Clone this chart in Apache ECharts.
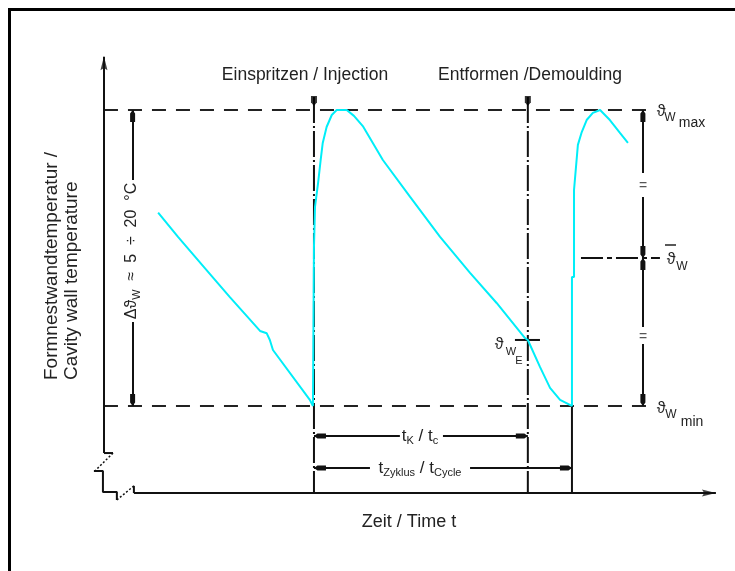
<!DOCTYPE html>
<html><head><meta charset="utf-8">
<script src="https://cdn.jsdelivr.net/npm/echarts@6/dist/echarts.min.js"></script>
<style>html,body{margin:0;padding:0;background:#fff}#c{width:735px;height:571px}</style>
</head><body><div id="c"></div>
<script>
// time t: injection at 0, cycle length 10 (arbitrary units); temperature: theta_min 40, theta_max 60
const T_INJ = 0, T_DEM = 8.29, T_CYC = 10;
const TH_MIN = 40, TH_MAX = 60, TH_MEAN = 50, TH_E = 44.46;
const T_AXIS = -8.14, TH_AXIS = 34.12, T_END = 15.58, TH_TOP = 63.6;
const T_DIM_L = -7.03, T_DIM_R = 12.75, T_REF_END = 12.95;
const TH_TK = 37.97, TH_TZ = 35.81, TH_MARK = 60.61, TH_VTOP = 60.88;
const T_MEAN_A = 10.35, T_MEAN_B = 13.41, T_E_A = 7.79, T_E_B = 8.76;

// cavity wall temperature curve [t, theta]
const curve = [
 [-6.04,53.06],[-5.27,51.42],[-4.23,49.32],[-3.26,47.36],[-2.09,45.07],[-1.83,44.91],[-1.71,44.46],[-1.59,43.78],[-0.16,40.41],[-0.04,40.0],
 [0,40],[0,50.74],[0.04,50.74],[0.04,53.45],[0.16,55.07],[0.26,56.62],[0.34,57.77],[0.49,58.85],[0.69,59.66],[0.88,60],[1.27,60],
 [1.55,59.6],[1.91,58.87],[2.67,56.62],[3.72,54.14],[4.88,51.44],[6.05,48.99],[7.08,46.96],[8.18,44.59],[8.29,44.46],[8.76,42.64],[9.15,41.22],[9.54,40.41],[9.92,40.07],[10.0,40],
 [10.0,48.72],[10.08,48.72],[10.08,54.59],[10.23,57.64],[10.38,58.51],[10.57,59.32],[10.81,59.8],[11.09,60],[11.47,59.32],[11.86,58.45],[12.17,57.77]
];
// axis break outline
const breakSolidA = [[T_AXIS,36.82],[-7.79,36.82]];
const breakDotA = [[-7.79,36.82],[-8.49,35.61]];
const breakSolidB = [[-8.53,35.61],[-8.18,35.61],[-8.18,34.19],[-7.64,34.19],[-7.64,33.65]];
const breakDotB = [[-7.64,33.65],[-6.98,34.6]];
const breakSolidC = [[-6.98,34.6],[-6.98,TH_AXIS]];

const labels = {
  inj: 'Einspritzen / Injection',
  dem: 'Entformen /Demoulding',
  xTitle: 'Zeit / Time t',
  y1: 'Formnestwandtemperatur /',
  y2: 'Cavity wall temperature'
};

const FF = '"Liberation Sans", Arial, Helvetica, sans-serif';
const INK = '#111';
// arrow whose tip sits at the centre of its box (upper half left empty)
const DIM_ARROW = 'path://M5,0L5.001,0L5,0.001Z M5,24L10,31L10,48L0,48L0,31Z';
const AX_ARROW = 'path://M5,0L10,24L5,20L0,24Z';

function lineSeries(data, style) {
  return { type:'line', data, symbol:'none', silent:true, animation:false,
    lineStyle: Object.assign({ color: INK, width: 2 }, style), z: 2 };
}
function dim(a, b, arrowAtB) {
  return [{ coord:a, symbol:'none' }, { coord:b, symbol: arrowAtB ? DIM_ARROW : 'none', symbolSize:[5,24] }];
}
function ff(s){ return s + 'px ' + FF; }
function txt(x, y, text, size, extra) {
  return Object.assign({ type:'text', x, y, silent:true, z:100,
    style:{ text, font: ff(size), fill:'#222', align:'center', verticalAlign:'middle' } }, extra || {});
}
function rt(x, y, text, rich, extra) {
  return Object.assign({ type:'text', x, y, silent:true, z:100,
    style:{ text, rich, fill:'#222', align:'center', verticalAlign:'middle', font: ff(16) } }, extra || {});
}

const chart = echarts.init(document.getElementById('c'), null, { renderer:'canvas' });
const opt = {
  animation:false,
  grid:{ left:0, right:0, top:0, bottom:0 },
  xAxis:{ type:'value', min:-12.17, max:16.32, show:false },
  yAxis:{ type:'value', min:28.85, max:67.43, show:false },
  series:[
    lineSeries([[T_AXIS,TH_MAX],[T_REF_END,TH_MAX]], { type:[14,10], color:'#222' }),
    lineSeries([[T_AXIS,TH_MIN],[T_REF_END,TH_MIN]], { type:[14,10], color:'#222' }),
    lineSeries([[T_INJ,TH_VTOP],[T_INJ,TH_AXIS]], { type:[26,3,2,3] }),
    lineSeries([[T_DEM,TH_VTOP],[T_DEM,TH_AXIS]], { type:[26,3,2,3] }),
    lineSeries([[T_CYC,TH_MIN],[T_CYC,TH_AXIS]], {}),
    lineSeries([[T_MEAN_A,TH_MEAN],[T_MEAN_B,TH_MEAN]], { type:[22,4,5,4] }),
    lineSeries([[T_E_A,TH_E],[T_E_B,TH_E]], {}),
    lineSeries(breakSolidA, {}),
    lineSeries(breakDotA, { type:[2,2], width:1.5 }),
    lineSeries(breakSolidB, {}),
    lineSeries(breakDotB, { type:[2,2], width:1.5 }),
    lineSeries(breakSolidC, {}),
    { type:'line', data:[], silent:true, animation:false,
      markLine:{ silent:true, animation:false, symbol:['none','none'],
        label:{ show:false }, emphasis:{ disabled:true },
        lineStyle:{ color:INK, width:2, type:'solid' },
        data:[
          dim([T_AXIS,36.82],[T_AXIS,TH_TOP], false),
          dim([-6.98,TH_AXIS],[T_END,TH_AXIS], false),
          dim([T_DIM_L,55.27],[T_DIM_L,TH_MAX], true),
          dim([T_DIM_L,45.68],[T_DIM_L,TH_MIN], true),
          dim([T_DIM_R,55.74],[T_DIM_R,TH_MAX], true),
          dim([T_DIM_R,54.12],[T_DIM_R,TH_MEAN], true),
          dim([T_DIM_R,45.34],[T_DIM_R,TH_MEAN], true),
          dim([T_DIM_R,44.26],[T_DIM_R,TH_MIN], true),
          dim([3.33,TH_TK],[T_INJ,TH_TK], true),
          dim([5.0,TH_TK],[T_DEM,TH_TK], true),
          dim([2.17,TH_TZ],[T_INJ,TH_TZ], true),
          dim([6.05,TH_TZ],[T_CYC,TH_TZ], true)
        ]}
    },
    { type:'scatter', silent:true, animation:false, symbol:AX_ARROW, symbolSize:[7,14],
      itemStyle:{ color:INK }, z:3,
      data:[ { value:[T_AXIS,TH_TOP-0.45] }, { value:[T_END-0.27,TH_AXIS], symbolRotate:-90 } ] },
    { type:'scatter', silent:true, animation:false, symbol:'path://M0,0L10,0L10,14L5,22L0,14Z', symbolSize:[6,10],
      itemStyle:{ color:'#000' }, z:3,
      data:[[T_INJ,TH_MARK],[T_DEM,TH_MARK]] },
    { type:'line', data:curve, symbol:'none', silent:true, animation:false, z:5,
      lineStyle:{ color:'#00eef8', width:2 } }
  ],
  graphic:[
    { type:'rect', shape:{ x:9.5, y:9.5, width:760, height:600 }, style:{ fill:'none', stroke:'#000', lineWidth:3 }, silent:true, z:100 },
    txt(305, 75, labels.inj, 17.5),
    txt(530, 75, labels.dem, 17.5),
    txt(409, 522, labels.xTitle, 18),
    txt(0, 0, labels.y1, 19, { x:52, y:380, rotation:Math.PI/2, style:{ text:labels.y1, font:ff(19), fill:'#222', align:'left', verticalAlign:'middle' } }),
    txt(0, 0, labels.y2, 19, { x:72, y:380, rotation:Math.PI/2, style:{ text:labels.y2, font:ff(19), fill:'#222', align:'left', verticalAlign:'middle' } }),
    rt(132, 251, '{m|Δϑ}{s|W}{m|  ≈  5  ÷  20  °C}',
      { m:{ font:ff(16), fill:'#222' }, s:{ font:ff(11), fill:'#222', padding:[10,0,0,0] } },
      { rotation:Math.PI/2 }),
    rt(420, 436, '{m|t}{s|K}{m| / t}{s|c}',
      { m:{ font:ff(17), fill:'#222' }, s:{ font:ff(11), fill:'#222', padding:[10,0,0,0] } }),
    rt(420, 468, '{m|t}{s|Zyklus}{m| / t}{s|Cycle}',
      { m:{ font:ff(17), fill:'#222' }, s:{ font:ff(11), fill:'#222', padding:[10,0,0,0] } }),
    txt(643, 186, '=', 14, { style:{ text:'=', font:ff(14), fill:'#555', align:'center', verticalAlign:'middle', backgroundColor:'#fff' } }),
    txt(643, 337, '=', 14, { style:{ text:'=', font:ff(14), fill:'#555', align:'center', verticalAlign:'middle', backgroundColor:'#fff' } }),
    // theta_W_max
    txt(661, 112, 'ϑ', 16), txt(670, 118, 'W', 12), txt(692, 123, 'max', 14),
    // theta_W_min
    txt(661, 409, 'ϑ', 16), txt(671, 415, 'W', 12), txt(692, 422, 'min', 14),
    // theta_W mean
    txt(671, 260, 'ϑ', 16), txt(682, 267, 'W', 12),
    { type:'line', shape:{ x1:665, y1:245, x2:676, y2:245 }, style:{ stroke:'#222', lineWidth:1.5 }, silent:true, z:100 },
    // theta_W_E
    txt(499, 345, 'ϑ', 16), txt(511, 352, 'W', 11), txt(519, 361, 'E', 11)
  ]
};
chart.setOption(opt);
</script></body></html>
